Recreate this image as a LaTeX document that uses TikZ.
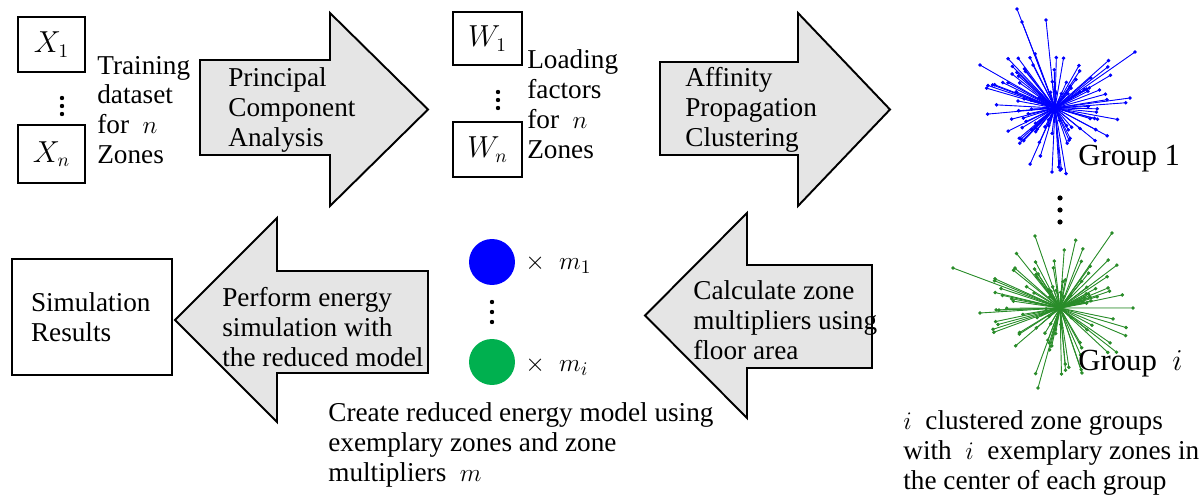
\documentclass[tikz,border=0pt]{standalone}
\usepackage{fontspec}
\setmainfont{Liberation Serif}
\newfontfamily\labelfont{Liberation Serif}
\usepackage{tikz}
\definecolor{arrowgray}{rgb}{0.9, 0.9, 0.9}
\definecolor{zonegreen}{rgb}{0, 0.69, 0.31}
\definecolor{stargreen}{rgb}{0.16, 0.55, 0.16}
\tikzset{
    txt/.style={anchor=west,align=left,inner sep=0pt,font=\labelfont\fontsize{15.5}{17}\selectfont},
    bigtxt/.style={anchor=west,align=left,inner sep=0pt,font=\labelfont\fontsize{17.5}{19}\selectfont},
    bigarrow/.style={draw=black,fill=arrowgray,line width=1.1pt,line join=miter},
    databox/.style={draw=black,line width=0.6pt,inner sep=0pt,font=\labelfont\fontsize{16}{18}\selectfont},
    ray/.style={draw=#1,fill=#1,line width=0.5pt},
    dotsep/.style={fill=black}
}

\begin{document}
\begin{tikzpicture}[x=0.02cm,y=-0.02cm]
        \useasboundingbox (0,0) rectangle (1201,496);

        % input boxes
        \node[databox,minimum width=1.34cm,minimum height=1.1cm] (x1) at (51.5,44.5) {$X_1$};
        \node[databox,minimum width=1.34cm,minimum height=1.16cm] (xn) at (51.5,154) {$X_n$};
        \foreach \y in {98,106,114}{
            \fill[dotsep] (62,\y) circle (2.2);
        }
        \node[txt] (train) at (97,110) {Training\\dataset\\for \ $n$\\Zones};

        % big arrows
        \draw[bigarrow] (200,60) -- (330,60) -- (330,13) -- (428,109.5) -- (330,206) -- (330,155) -- (200,155) -- cycle;
        \node[txt] (pca) at (228,110) {Principal\\Component\\Analysis};

        \draw[bigarrow] (660,62) -- (798,62) -- (798,13) -- (890,109.5) -- (798,206) -- (798,155) -- (660,155) -- cycle;
        \node[txt] (apc) at (685,110) {Affinity\\Propagation\\Clustering};

        \draw[bigarrow] (872,265) -- (747,265) -- (747,213) -- (645,315.5) -- (747,418) -- (747,368) -- (872,368) -- cycle;
        \node[txt] (calc) at (693,320) {Calculate zone\\multipliers using\\floor area};

        \draw[bigarrow] (428,271) -- (277,271) -- (277,218) -- (175,320) -- (277,422) -- (277,373) -- (428,373) -- cycle;
        \node[txt] (perf) at (222,327) {Perform energy\\simulation with\\the reduced model};

        % loading factors
        \node[databox,minimum width=1.38cm,minimum height=1.06cm] (w1) at (487.5,38.5) {$W_1$};
        \node[databox,minimum width=1.38cm,minimum height=1.1cm] (wn) at (487.5,149.5) {$W_n$};
        \foreach \y in {92,100,108}{
            \fill[dotsep] (498,\y) circle (2.2);
        }
        \node[txt] (load) at (527,104) {Loading\\factors\\for \ $n$\\Zones};

        % clustered groups
        \coordinate (g1) at (1055,108);
        \coordinate (gi) at (1060,308);
        \pgfmathsetseed{4217}
        \foreach \k in {1,...,100}{
            \pgfmathsetmacro{\ang}{360*rnd}
            \pgfmathsetmacro{\len}{12+60*rnd}
            \filldraw[ray=blue] (g1) -- ++(\ang:\len) circle (1.3);
        }
        \foreach \dx/\dy in {-38/-99,-33/-86,80/-56,-75/-43,-3/64,-9/-88,75/-10}{
            \filldraw[ray=blue] (g1) -- ++(\dx,\dy) circle (1.3);
        }
        \foreach \k in {1,...,100}{
            \pgfmathsetmacro{\ang}{360*rnd}
            \pgfmathsetmacro{\len}{12+60*rnd}
            \filldraw[ray=stargreen] (gi) -- ++(\ang:\len) circle (1.3);
        }
        \foreach \dx/\dy in {-107/-40,52/-75,-22/80,73/0,-80/5,-25/-72}{
            \filldraw[ray=stargreen] (gi) -- ++(\dx,\dy) circle (1.3);
        }
        \node[bigtxt] (grp1) at (1078,159) {Group 1};
        \node[bigtxt] (grpi) at (1078,364) {Group \ $i$};
        \foreach \y in {198,210,222}{
            \fill[dotsep] (1060,\y) circle (2.6);
        }
        \node[txt] (groups) at (903,453) {$i$ \ clustered zone groups\\with \ $i$ \ exemplary zones in\\the center of each group};

        % reduced model
        \node[circle,fill=blue,minimum size=0.92cm,inner sep=0pt] (z1) at (492,262) {};
        \node[circle,fill=zonegreen,minimum size=0.92cm,inner sep=0pt] (zi) at (492,362) {};
        \foreach \y in {302,312,322}{
            \fill[dotsep] (492,\y) circle (2.2);
        }
        \node[txt] (m1) at (525,264) {$\times\;\;m_1$};
        \node[txt] (mi) at (525,366) {$\times\;\;m_i$};
        \node[txt] (create) at (328,445) {Create reduced energy model using\\exemplary zones and zone\\multipliers \ $m$};

        % output
        \node[databox,font=\labelfont\fontsize{15.5}{17}\selectfont,minimum width=3.2cm,minimum height=2.32cm,text width=2.44cm,inner xsep=0.38cm,align=left] (sim) at (92,317) {Simulation\\Results};
    \end{tikzpicture}
\end{document}
